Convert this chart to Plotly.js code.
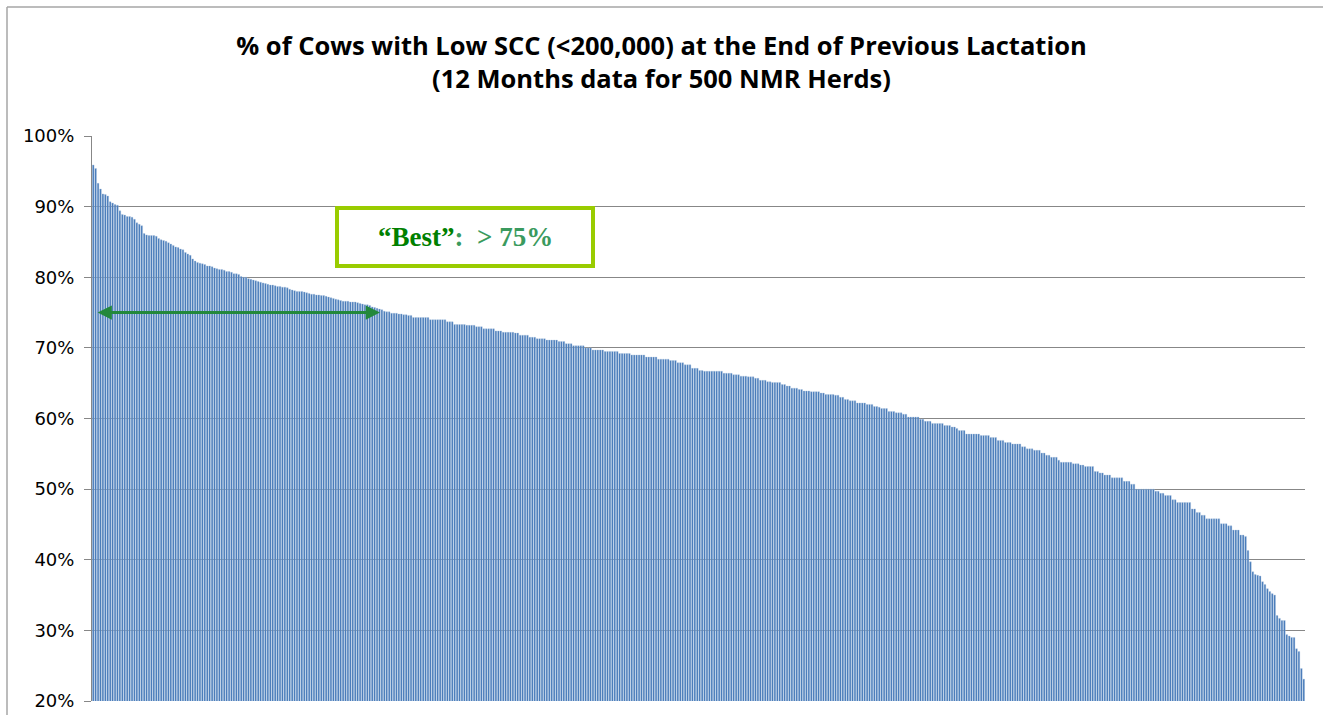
<!DOCTYPE html>
<html>
<head>
<meta charset="utf-8">
<script src="https://cdn.plot.ly/plotly-3.0.1.min.js"></script>
<style>html,body{margin:0;padding:0;background:#fff;}#chart{width:1323px;height:715px;}</style>
</head>
<body>
<div id="chart"></div>
<script>
// % of cows with low SCC, one value per herd, sorted descending
const herdPct = [
95.9, 95.4, 93.3, 92.5, 91.8, 91.7, 91.5, 90.7, 90.5, 90.3,
90.2, 89.4, 88.9, 88.8, 88.6, 88.6, 88.5, 88.2, 87.7, 87.5,
87.3, 86.2, 86.0, 85.9, 85.9, 85.9, 85.8, 85.5, 85.3, 85.2,
85.1, 84.9, 84.7, 84.5, 84.3, 84.2, 84.0, 83.9, 83.5, 83.3,
83.1, 82.6, 82.3, 82.1, 82.0, 81.9, 81.8, 81.6, 81.6, 81.5,
81.3, 81.2, 81.1, 81.1, 81.0, 80.8, 80.8, 80.7, 80.5, 80.5,
80.4, 80.1, 80.0, 80.0, 79.8, 79.7, 79.6, 79.5, 79.4, 79.3,
79.2, 79.1, 79.0, 78.9, 78.9, 78.8, 78.7, 78.7, 78.6, 78.6,
78.5, 78.3, 78.2, 78.1, 78.0, 78.0, 78.0, 77.9, 77.8, 77.7,
77.6, 77.6, 77.5, 77.5, 77.4, 77.4, 77.3, 77.2, 77.1, 77.0,
76.9, 76.8, 76.7, 76.6, 76.6, 76.6, 76.5, 76.5, 76.5, 76.4,
76.3, 76.2, 76.1, 76.1, 76.0, 75.8, 75.7, 75.6, 75.5, 75.4,
75.2, 75.1, 75.1, 74.9, 74.9, 74.9, 74.8, 74.8, 74.7, 74.7,
74.6, 74.6, 74.3, 74.3, 74.3, 74.3, 74.3, 74.3, 74.3, 74.0,
74.0, 74.0, 74.0, 74.0, 74.0, 74.0, 73.7, 73.7, 73.7, 73.3,
73.3, 73.3, 73.3, 73.3, 73.2, 73.2, 73.2, 73.2, 73.0, 73.0,
73.0, 72.7, 72.7, 72.7, 72.7, 72.7, 72.4, 72.4, 72.4, 72.2,
72.2, 72.2, 72.2, 72.2, 72.1, 72.1, 71.8, 71.8, 71.8, 71.8,
71.5, 71.5, 71.5, 71.3, 71.3, 71.3, 71.3, 71.1, 71.1, 71.1,
71.1, 71.1, 70.9, 70.9, 70.9, 70.6, 70.6, 70.6, 70.3, 70.3,
70.3, 70.3, 70.3, 70.0, 70.0, 70.0, 69.7, 69.7, 69.7, 69.7,
69.7, 69.5, 69.5, 69.5, 69.5, 69.5, 69.5, 69.2, 69.2, 69.2,
69.2, 69.2, 69.0, 69.0, 69.0, 69.0, 69.0, 69.0, 68.7, 68.7,
68.7, 68.7, 68.7, 68.4, 68.4, 68.4, 68.4, 68.4, 68.2, 68.2,
68.2, 67.9, 67.9, 67.9, 67.6, 67.6, 67.6, 67.1, 67.1, 67.1,
66.8, 66.8, 66.7, 66.7, 66.7, 66.7, 66.7, 66.7, 66.7, 66.7,
66.4, 66.4, 66.4, 66.4, 66.2, 66.2, 66.2, 66.0, 66.0, 66.0,
65.9, 65.9, 65.9, 65.7, 65.7, 65.4, 65.4, 65.4, 65.2, 65.2,
65.1, 65.1, 65.1, 65.1, 64.8, 64.8, 64.6, 64.6, 64.3, 64.3,
64.3, 64.1, 64.1, 63.9, 63.9, 63.9, 63.8, 63.8, 63.8, 63.8,
63.6, 63.6, 63.4, 63.4, 63.4, 63.4, 63.3, 63.3, 63.0, 63.0,
62.7, 62.7, 62.5, 62.5, 62.5, 62.2, 62.2, 62.2, 62.2, 62.0,
62.0, 62.0, 61.7, 61.7, 61.6, 61.4, 61.4, 61.4, 61.0, 61.0,
61.0, 60.8, 60.8, 60.8, 60.6, 60.6, 60.2, 60.2, 60.2, 60.2,
60.2, 59.9, 59.9, 59.6, 59.6, 59.6, 59.3, 59.3, 59.3, 59.3,
59.3, 59.0, 59.0, 59.0, 58.8, 58.8, 58.6, 58.3, 58.3, 58.3,
57.8, 57.8, 57.8, 57.8, 57.8, 57.8, 57.6, 57.6, 57.6, 57.6,
57.3, 57.3, 57.3, 56.9, 56.9, 56.9, 56.6, 56.6, 56.6, 56.4,
56.4, 56.4, 56.4, 56.0, 56.0, 55.7, 55.7, 55.7, 55.5, 55.5,
55.5, 55.1, 55.1, 54.8, 54.8, 54.5, 54.5, 54.5, 54.1, 53.8,
53.8, 53.8, 53.8, 53.8, 53.6, 53.6, 53.6, 53.4, 53.4, 53.2,
53.2, 53.2, 53.2, 52.5, 52.5, 52.3, 52.3, 52.0, 52.0, 52.0,
51.6, 51.6, 51.6, 51.6, 51.6, 51.1, 51.1, 51.1, 50.7, 50.7,
50.0, 50.0, 50.0, 50.0, 50.0, 50.0, 50.0, 50.0, 49.7, 49.7,
49.4, 49.4, 49.1, 49.1, 49.1, 48.5, 48.5, 48.1, 48.1, 48.1,
48.1, 48.1, 48.1, 47.2, 47.2, 46.7, 46.7, 46.3, 46.3, 45.8,
45.8, 45.8, 45.8, 45.8, 45.8, 45.1, 45.1, 45.1, 44.8, 44.8,
44.2, 44.2, 44.2, 43.5, 43.5, 43.3, 41.3, 39.7, 38.3, 37.9,
37.8, 37.7, 36.9, 36.5, 35.9, 35.5, 35.2, 35.0, 32.1, 31.7,
31.4, 31.4, 29.4, 29.2, 29.0, 29.0, 27.4, 27.0, 24.6, 23.1
];
const herdIndex = herdPct.map((v, i) => i);
const yTickVals = [20, 30, 40, 50, 60, 70, 80, 90, 100];
const yTickText = ['20%', '30%', '40%', '50%', '60%', '70%', '80%', '90%', '100%'];
const titleLines = ['% of Cows with Low SCC (<200,000) at the End of Previous Lactation', '(12 Months data for 500 NMR Herds)'];
const bestLabel = '“Best”';
const bestRest = ':  &gt; 75%';
const bestThreshold = 75;
const arrowFromHerd = 1.2;
const arrowToHerd = 118.2;

const trace = {
  type: 'bar',
  x: herdIndex,
  y: herdPct,
  marker: {color: '#3F74B6', line: {color: '#B4C9E4', width: 0.4}},
  hoverinfo: 'skip'
};

const n = herdPct.length;
const layout = {
  width: 1323, height: 715,
  margin: {l: 92, r: 18, t: 136, b: 14, pad: 0},
  paper_bgcolor: '#ffffff', plot_bgcolor: '#ffffff',
  showlegend: false,
  bargap: 0.3,
  title: {
    text: '<b>' + titleLines[0] + '</b><br><b>' + titleLines[1] + '</b>',
    font: {family: '"Open Sans", "Liberation Sans", sans-serif', size: 25.5, color: '#000', weight: 700},
    x: 0.5, xref: 'container', xanchor: 'center',
    y: 1 - 55/715, yref: 'container', yanchor: 'middle'
  },
  xaxis: {
    range: [-0.5, n - 0.5],
    showticklabels: false, showgrid: false, zeroline: false,
    showline: false, ticks: ''
  },
  yaxis: {
    range: [20, 100],
    tickvals: yTickVals, ticktext: yTickText,
    showgrid: true, gridcolor: '#878787', gridwidth: 1,
    zeroline: false,
    showline: true, linecolor: '#878787', linewidth: 1,
    ticks: 'outside', ticklen: 7, tickcolor: '#878787',
    ticklabelstandoff: 6,
    tickfont: {family: '"DejaVu Sans", sans-serif', size: 18, color: '#000'}
  },
  shapes: [
    // outer chart border (left and top edges visible)
    {type: 'line', xref: 'paper', yref: 'paper',
     x0: (7-92)/1213, x1: (7-92)/1213, y0: (701-730)/565, y1: (701-7)/565,
     line: {color: '#A6A6A6', width: 1.5}, layer: 'below'},
    {type: 'line', xref: 'paper', yref: 'paper',
     x0: (7-92)/1213, x1: (1330-92)/1213, y0: (701-7)/565, y1: (701-7)/565,
     line: {color: '#A6A6A6', width: 1.5}, layer: 'below'},
    // "Best" label box
    {type: 'rect', xref: 'paper', yref: 'paper',
     x0: (337-92)/1213, x1: (593-92)/1213, y0: (701-266)/565, y1: (701-208)/565,
     line: {color: '#99CC00', width: 4}, fillcolor: '#ffffff', layer: 'above'}
  ],
  annotations: [
    {xref: 'paper', yref: 'paper', x: (465-92)/1213, y: (701-237)/565,
     xanchor: 'center', yanchor: 'middle', showarrow: false,
     text: '<b><span style="color:#008000">' + bestLabel + '</span><span style="color:#3A9A5E">' + bestRest + '</span></b>',
     font: {family: '"Liberation Serif", "Times New Roman", serif', size: 27}},
    {xref: 'x', yref: 'y', axref: 'x', ayref: 'y',
     x: arrowToHerd, y: bestThreshold, ax: arrowFromHerd, ay: bestThreshold,
     text: '', showarrow: true,
     arrowside: 'end+start', arrowhead: 2, startarrowhead: 2,
     arrowsize: 0.95, startarrowsize: 0.95, arrowwidth: 3,
     arrowcolor: '#23883B', standoff: 0, startstandoff: 0}
  ]
};

Plotly.newPlot('chart', [trace], layout, {staticPlot: true, displayModeBar: false});
</script>
</body>
</html>
